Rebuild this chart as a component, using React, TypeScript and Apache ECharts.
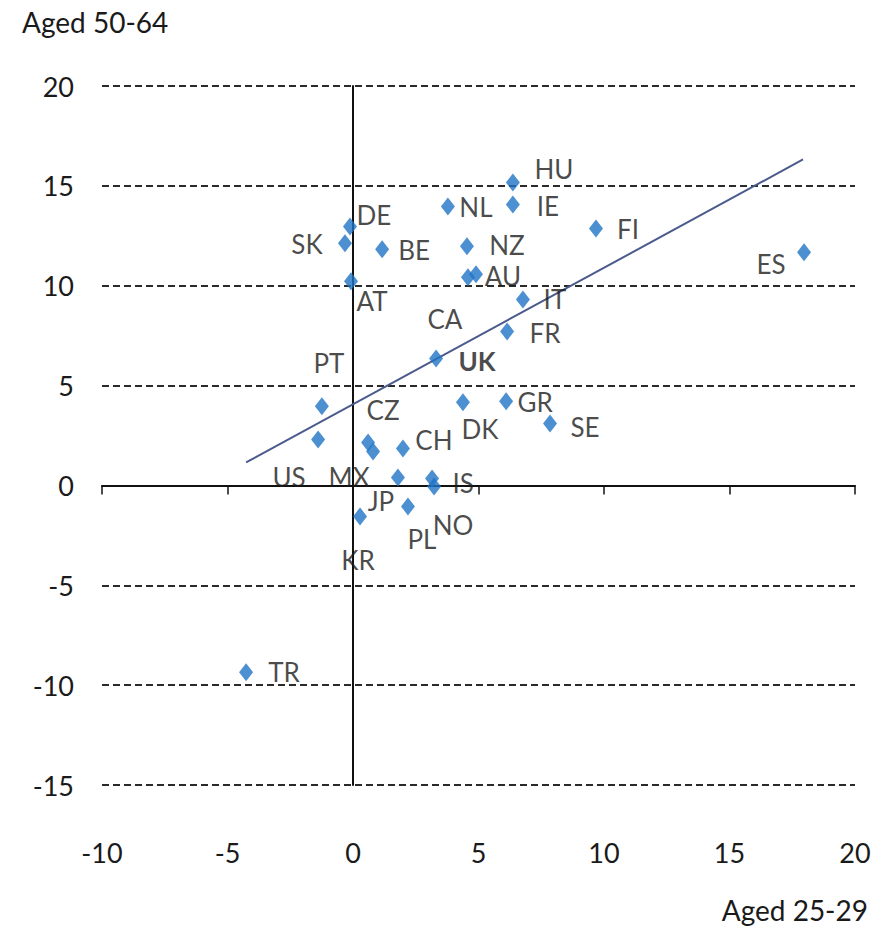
import React, { useEffect, useRef } from "react";
import * as echarts from "echarts";

// Data (x: change aged 25-29, y: change aged 50-64)
const countries = ["HU","IE","NL","DE","SK","BE","NZ","AU","CA","AT","IT","FR","FI","ES","UK","PT","US","CZ","MX","CH","DK","GR","SE","JP","IS","NO","PL","KR","TR"];
const aged2529 = [6.37,6.37,3.78,-0.12,-0.32,1.16,4.54,4.9,4.58,-0.08,6.77,6.14,9.68,17.97,3.31,-1.24,-1.39,0.6,0.8,1.99,4.38,6.1,7.85,1.79,3.15,3.23,2.19,0.28,-4.26];
const aged5064 = [15.17,14.07,13.97,12.97,12.12,11.82,11.97,10.57,10.42,10.22,9.31,7.71,12.87,11.67,6.36,3.96,2.3,2.15,1.7,1.85,4.16,4.21,3.1,0.4,0.35,-0.05,-1.05,-1.55,-9.36];
const trendX = [-4.26, 17.93];
const trendY = [1.15, 16.32];
const xTicks = [-10, 20, 5];
const yTicks = [-15, 20, 5];

// label placement (pixel offsets of the label centre from the marker), styling only
const labelOffsets: Record<string, [number, number]> = {
  HU: [41, -13], IE: [35, 2], NL: [28, 1], DE: [24, -11], SK: [-38, 1], BE: [32, 1],
  NZ: [40, -1], AU: [27, 2], CA: [-23, 42], AT: [21, 20], IT: [32, 0], FR: [38, 2],
  FI: [32, 1], ES: [-33, 12], UK: [41, 3], PT: [7, -43], US: [-29, 38], CZ: [15, -32],
  MX: [-24, 26], CH: [31, -8], DK: [17, 27], GR: [29, 1], SE: [35, 3], JP: [-17, 24],
  IS: [31, 5], NO: [19, 39], PL: [14, 33], KR: [-2, 44], TR: [38, 0],
};

const FONT = "Lato, 'Open Sans', sans-serif";
const TEXT = "#1a1a1a";
const SYM: [number, number] = [14, 18];

export default function App() {
  const ref = useRef<HTMLDivElement>(null);
  useEffect(() => {
    if (!ref.current) return;
    const chart = echarts.init(ref.current, null, { renderer: "svg" });
    const points = countries.map((c, i) => {
      const off = labelOffsets[c] || [0, 0];
      return {
        name: c,
        value: [aged2529[i], aged5064[i]],
        label: {
          position: [SYM[0] / 2 + off[0], SYM[1] / 2 + off[1]],
          align: "center",
          verticalAlign: "middle",
          fontWeight: c === "UK" ? "bold" : "normal",
        },
      };
    });
    chart.setOption({
      animation: false,
      backgroundColor: "#ffffff",
      grid: { left: 102, right: 31, top: 86, bottom: 148, containLabel: false },
      xAxis: [
        {
          type: "value",
          min: xTicks[0], max: xTicks[1], interval: xTicks[2],
          axisLine: { show: false, onZero: false },
          axisTick: { show: false },
          splitLine: { show: false },
          axisLabel: { fontFamily: FONT, fontSize: 27, color: TEXT, margin: 54 },
        },
        {
          type: "value",
          position: "bottom",
          min: xTicks[0], max: xTicks[1], interval: xTicks[2],
          axisLine: { show: true, onZero: true, lineStyle: { color: "#111", width: 2 } },
          axisTick: { show: true, length: 9, lineStyle: { color: "#111", width: 1.5 } },
          splitLine: { show: false },
          axisLabel: { show: false },
        },
      ],
      yAxis: [
        {
          type: "value",
          min: yTicks[0], max: yTicks[1], interval: yTicks[2],
          axisLine: { show: false, onZero: false },
          axisTick: { show: false },
          splitLine: { show: true, lineStyle: { color: "#2a2a2a", width: 2, type: [7, 4] } },
          axisLabel: { fontFamily: FONT, fontSize: 27, color: TEXT, margin: 28 },
        },
        {
          type: "value",
          position: "left",
          min: yTicks[0], max: yTicks[1], interval: yTicks[2],
          axisLine: { show: true, onZero: true, lineStyle: { color: "#111", width: 2 } },
          axisTick: { show: false },
          splitLine: { show: false },
          axisLabel: { show: false },
        },
      ],
      graphic: [
        {
          type: "text", left: 22, top: 8,
          style: { text: "Aged 50-64", fontFamily: FONT, fontSize: 28, fill: TEXT },
        },
        {
          type: "text", right: 18, top: 896,
          style: { text: "Aged 25-29", fontFamily: FONT, fontSize: 28, fill: TEXT },
        },
      ],
      series: [
        {
          type: "line",
          xAxisIndex: 0, yAxisIndex: 0,
          data: trendX.map((x, i) => [x, trendY[i]]),
          symbol: "none",
          lineStyle: { color: "#4a5a8c", width: 2 },
          z: 3,
        },
        {
          type: "scatter",
          xAxisIndex: 0, yAxisIndex: 0,
          data: points,
          symbol: "diamond",
          symbolSize: SYM,
          itemStyle: { color: "#1f74c6" },
          label: {
            show: true,
            formatter: "{b}",
            fontFamily: FONT,
            fontSize: 26,
            color: TEXT,
          },
          labelLayout: { hideOverlap: false },
          z: 4,
        },
      ],
    });
    return () => chart.dispose();
  }, []);
  return (
    <div
      ref={ref}
      style={{ position: "fixed", left: 0, top: 0, width: 886, height: 933, background: "#fff" }}
    />
  );
}
